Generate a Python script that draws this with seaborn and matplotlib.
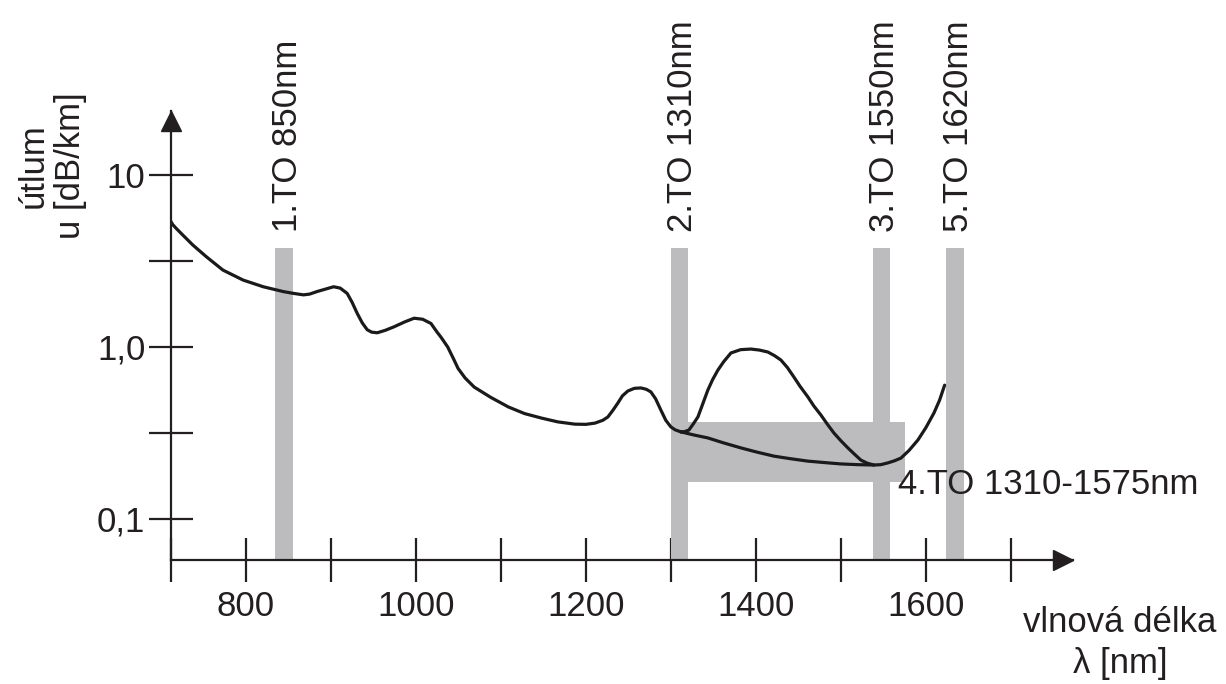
import numpy as np
import pandas as pd
import matplotlib
matplotlib.use("Agg")
import matplotlib.pyplot as plt
from matplotlib import transforms
import seaborn as sns

# ---------------- data ----------------
wavelength_main = [710.9, 714, 718, 725.8, 737.6, 753.5, 773.1, 796.8, 820.5, 844.1, 856,
                   867.8, 875, 883.7, 895, 903.3, 911, 919.2, 925, 931, 937, 942.8, 948,
                   954.7, 964, 974.3, 987, 998, 1008, 1017.8, 1025, 1029.6, 1037.5, 1045,
                   1049.7, 1058, 1068.6, 1088, 1108.9, 1128, 1147.9, 1167, 1187, 1200,
                   1210.7, 1220, 1225.9, 1232, 1237.6, 1243, 1249.4, 1257, 1264.7, 1271,
                   1276.5, 1282, 1288.2, 1294, 1300, 1305, 1311.8]
attenuation_main = [5.47, 5.15, 4.90, 4.48, 3.92, 3.35, 2.80, 2.45, 2.24, 2.10, 2.05,
                    2.01, 2.03, 2.10, 2.18, 2.24, 2.20, 2.05, 1.82, 1.57, 1.38, 1.26, 1.22,
                    1.21, 1.25, 1.31, 1.40, 1.47, 1.45, 1.37, 1.22, 1.14, 1.00, 0.84,
                    0.75, 0.66, 0.585, 0.51, 0.448, 0.41, 0.386, 0.367, 0.356, 0.355,
                    0.361, 0.375, 0.392, 0.43, 0.472, 0.52, 0.555, 0.575, 0.578, 0.568,
                    0.548, 0.50, 0.430, 0.375, 0.343, 0.330, 0.321]

wavelength_water = [1311.8, 1316, 1321.2, 1326, 1331.8, 1337, 1343.5, 1349, 1355.3, 1362,
                    1370.6, 1382, 1394.1, 1404, 1414.1, 1422, 1429.4, 1437, 1444.7, 1452,
                    1461.2, 1468, 1476.5, 1484, 1491.8, 1500, 1508.2, 1516, 1523.5, 1531,
                    1538.8]
attenuation_water = [0.321, 0.322, 0.329, 0.355, 0.392, 0.46, 0.562, 0.645, 0.734, 0.82,
                     0.923, 0.965, 0.973, 0.96, 0.935, 0.89, 0.840, 0.76, 0.669, 0.59,
                     0.512, 0.455, 0.402, 0.356, 0.316, 0.285, 0.259, 0.238, 0.220, 0.211,
                     0.206]

wavelength_lowwp = [1311.8, 1327, 1343.5, 1362, 1382.4, 1401, 1421.2, 1441, 1461.2, 1480,
                    1500, 1520, 1538.8, 1547, 1555.3, 1563, 1570.6, 1580, 1590.6, 1600,
                    1609.4, 1616, 1622]
attenuation_lowwp = [0.321, 0.308, 0.296, 0.277, 0.259, 0.245, 0.232, 0.224, 0.217, 0.213,
                     0.209, 0.207, 0.206, 0.207, 0.212, 0.218, 0.226, 0.25, 0.288, 0.34,
                     0.413, 0.49, 0.60]

window_labels = ["1.TO 850nm", "2.TO 1310nm", "3.TO 1550nm", "5.TO 1620nm"]
window_centers = [845, 1310, 1548, 1634]
window_widths = [21, 20, 20, 21]
window_top = 3.77

band4_label = "4.TO 1310-1575nm"
band4_x = [1300, 1575]
band4_y = [0.164, 0.366]

x_ticks = [712, 800, 900, 1000, 1100, 1200, 1300, 1400, 1500, 1600, 1700]
x_tick_labels = ["", "800", "", "1000", "", "1200", "", "1400", "", "1600", ""]
y_ticks = [0.1, 10 ** -0.5, 1.0, 10 ** 0.5, 10.0]
y_tick_labels = ["0,1", "", "1,0", "", "10"]

y_label = "útlum\nu [dB/km]"
x_label = "vlnová délka\nλ [nm]"

# ---------------- style ----------------
sns.set_theme(style="white")
plt.rcParams["font.family"] = ["Liberation Sans", "DejaVu Sans"]
ink = "#231f20"
grey = "#bcbcbe"
FS = 25

W, H = 1226, 684
fig = plt.figure(figsize=(W / 100, H / 100), dpi=100)
ax_left, ax_right, ax_top, ax_bottom = 171, 1073, 111, 560
ax = fig.add_axes([ax_left / W, (H - ax_bottom) / H,
                   (ax_right - ax_left) / W, (ax_bottom - ax_top) / H])
ax.set_yscale("log")
x_lo, x_hi = 712, 1773
y_lo, y_hi = 10 ** (1 - (560 - 175) / 172), 10 ** (1 + (175 - 111) / 172)
ax.set_xlim(x_lo, x_hi)
ax.set_ylim(y_lo, y_hi)

# windows (vertical bands)
for c, w in zip(window_centers, window_widths):
    ax.bar(c, window_top - y_lo, bottom=y_lo, width=w, color=grey, linewidth=0, zorder=1)
# 4th window (horizontal band)
ax.bar(band4_x[0], band4_y[1] - band4_y[0], bottom=band4_y[0], width=band4_x[1] - band4_x[0],
       align="edge", color=grey, linewidth=0, zorder=1)

# curves
for xs, ys in [(wavelength_main, attenuation_main),
               (wavelength_water, attenuation_water),
               (wavelength_lowwp, attenuation_lowwp)]:
    df = pd.DataFrame({"wl": xs, "att": ys})
    sns.lineplot(data=df, x="wl", y="att", ax=ax, color="#1a1a1a", linewidth=2.3,
                 estimator=None, sort=False, zorder=3,
                 solid_joinstyle="round", solid_capstyle="round")

# window labels (rotated)
for lab, c in zip(window_labels, window_centers):
    ax.text(c + 15, 4.67, lab, rotation=90, rotation_mode="anchor", ha="left",
            va="baseline", fontsize=FS, color=ink, zorder=4)
ax.text(1567, 0.158, band4_label, ha="left", va="center", fontsize=FS, color=ink, zorder=4)

# axes styling
for s in ["top", "right"]:
    ax.spines[s].set_visible(False)
for s in ["left", "bottom"]:
    ax.spines[s].set_color(ink)
    ax.spines[s].set_linewidth(1.6)
    ax.spines[s].set_zorder(5)

ax.set_xticks(x_ticks)
ax.set_xticklabels(x_tick_labels)
ax.set_yticks(y_ticks)
ax.set_yticklabels(y_tick_labels)
ax.yaxis.set_minor_locator(matplotlib.ticker.NullLocator())
ax.xaxis.set_minor_locator(matplotlib.ticker.NullLocator())
ax.tick_params(axis="both", which="major", direction="inout", length=31, width=1.6,
               color=ink, labelcolor=ink, labelsize=FS, bottom=True, left=True)
ax.tick_params(axis="x", pad=6)
ax.tick_params(axis="y", pad=3)
ax.set_xlabel("")
ax.set_ylabel("")
ax.patch.set_visible(False)

# arrow heads
ms = 14
off_up = transforms.offset_copy(ax.transAxes, fig=fig, x=0, y=-ms / 2, units="points")
ax.plot([0], [1], marker="^", markersize=ms, color=ink, transform=off_up, clip_on=False,
        zorder=6)
off_right = transforms.offset_copy(ax.transAxes, fig=fig, x=-ms / 2, y=0, units="points")
ax.plot([1], [0], marker=">", markersize=ms, color=ink, transform=off_right, clip_on=False,
        zorder=6)

# axis titles
fig.text(52 / W, 1 - 166 / H, y_label, rotation=90, ha="center", va="center",
         multialignment="center", fontsize=FS, color=ink, linespacing=1.15)
fig.text(1120 / W, 1 - 606 / H, x_label, ha="center", va="top",
         multialignment="center", fontsize=FS, color=ink, linespacing=1.3)

fig.savefig("out.png", dpi=100, facecolor="white")
